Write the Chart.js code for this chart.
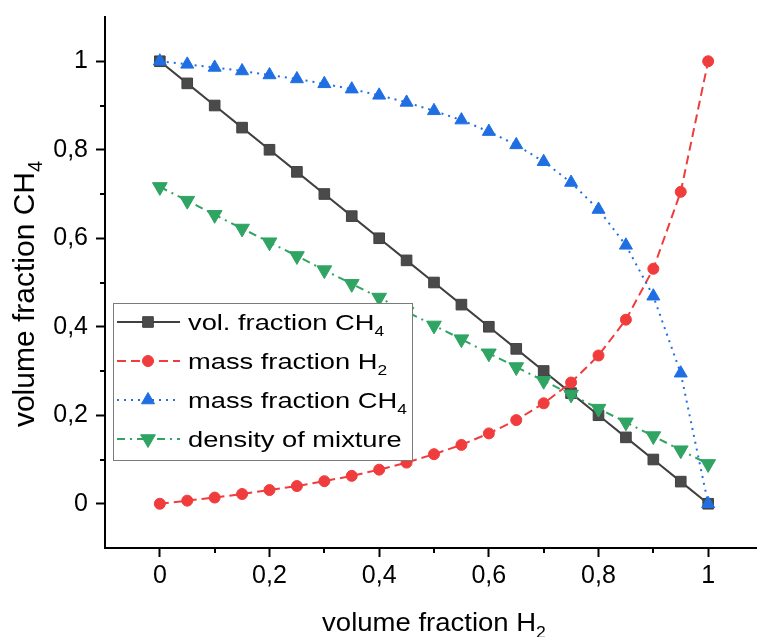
<!DOCTYPE html>
<html>
<head>
<meta charset="utf-8">
<script src="https://cdn.jsdelivr.net/npm/chart.js@4.4.1/dist/chart.umd.min.js"></script>
<style>
  html, body { margin: 0; padding: 0; background: #fff; overflow: hidden; }
  #wrap { width: 763px; height: 637px; }
</style>
</head>
<body>
<div id="wrap"><canvas id="chart" width="763" height="637"></canvas></div>
<script>
// volume fraction H2 (x) and the four curves
const xValues = [0, 0.05, 0.1, 0.15, 0.2, 0.25, 0.3, 0.35, 0.4, 0.45, 0.5,
                 0.55, 0.6, 0.65, 0.7, 0.75, 0.8, 0.85, 0.9, 0.95, 1];
const volFractionCH4 = [1, 0.95, 0.9, 0.85, 0.8, 0.75, 0.7, 0.65, 0.6, 0.55, 0.5,
                        0.45, 0.4, 0.35, 0.3, 0.25, 0.2, 0.15, 0.1, 0.05, 0];
const massFractionH2 = [0, 0.007, 0.014, 0.022, 0.031, 0.040, 0.051, 0.063, 0.077, 0.093, 0.112,
                        0.133, 0.159, 0.189, 0.227, 0.274, 0.335, 0.416, 0.531, 0.705, 1];
const massFractionCH4 = [1, 0.993, 0.986, 0.978, 0.969, 0.960, 0.949, 0.937, 0.923, 0.907, 0.888,
                         0.867, 0.841, 0.811, 0.773, 0.726, 0.665, 0.584, 0.469, 0.295, 0];
const densityMixture = [0.716, 0.685, 0.653, 0.622, 0.591, 0.560, 0.528, 0.497, 0.466, 0.434, 0.403,
                        0.372, 0.340, 0.309, 0.278, 0.247, 0.215, 0.184, 0.153, 0.121, 0.090];

const xTicks = [0, 0.2, 0.4, 0.6, 0.8, 1];
const yTicks = [0, 0.2, 0.4, 0.6, 0.8, 1];
const xMinorTicks = [0.1, 0.3, 0.5, 0.7, 0.9];
const yMinorTicks = [0.1, 0.3, 0.5, 0.7, 0.9];

// legend text: [main text, subscript]
const legendLabels = [
    ['vol. fraction CH', '4'],
    ['mass fraction H', '2'],
    ['mass fraction CH', '4'],
    ['density of mixture', '']
];
const xTitle = ['volume fraction H', '2'];
const yTitle = ['volume fraction CH', '4'];

const FONT = '"Liberation Sans", Arial, Helvetica, sans-serif';

const toPoints = ys => xValues.map((x, i) => ({ x: x, y: ys[i] }));
const fmt = v => String(Math.round(v * 10) / 10).replace('.', ',');

const series = [
    { label: 'vol. fraction CH4', data: volFractionCH4, color: '#404040', fill: '#4a4a4a',
      dash: [], style: 'rect', radius: 7.5, rotation: 0 },
    { label: 'mass fraction H2', data: massFractionH2, color: '#f03c3c', fill: '#f03c3c',
      dash: [9, 5], style: 'circle', radius: 5.5, rotation: 0 },
    { label: 'mass fraction CH4', data: massFractionCH4, color: '#1f6fe3', fill: '#1f6fe3',
      dash: [2, 5], style: 'triangle', radius: 7.5, rotation: 0 },
    { label: 'density of mixture', data: densityMixture, color: '#2fa463', fill: '#2fa463',
      dash: [8, 5, 2, 5], style: 'triangle', radius: 8.5, rotation: 180 }
];

// draw text with a lowered, smaller subscript part; sx stretches it sideways
function drawSubText(ctx, parts, x, y, size, align, sx) {
    const mainFont = size + 'px ' + FONT;
    const subFont = Math.round(size * 0.65) + 'px ' + FONT;
    ctx.font = mainFont;
    const w1 = ctx.measureText(parts[0]).width;
    ctx.font = subFont;
    const w2 = parts[1] ? ctx.measureText(parts[1]).width : 0;
    ctx.save();
    ctx.translate(x, y);
    ctx.scale(sx, 1);
    const start = align === 'center' ? -(w1 + w2) / 2 : 0;
    ctx.textAlign = 'left';
    ctx.textBaseline = 'alphabetic';
    ctx.font = mainFont;
    ctx.fillText(parts[0], start, 0);
    if (parts[1]) {
        ctx.font = subFont;
        ctx.fillText(parts[1], start + w1, size * 0.28);
    }
    ctx.restore();
}

function drawMarker(ctx, s, x, y) {
    ctx.save();
    ctx.fillStyle = s.fill;
    ctx.strokeStyle = s.color;
    ctx.lineWidth = 1;
    ctx.setLineDash([]);
    ctx.beginPath();
    const r = s.radius;
    if (s.style === 'rect') {
        const h = r * Math.SQRT1_2;
        ctx.rect(x - h, y - h, 2 * h, 2 * h);
    } else if (s.style === 'circle') {
        ctx.arc(x, y, r, 0, Math.PI * 2);
    } else {
        let rad = s.rotation * Math.PI / 180;
        ctx.moveTo(x + Math.sin(rad) * r, y - Math.cos(rad) * r);
        rad += Math.PI * 2 / 3;
        ctx.lineTo(x + Math.sin(rad) * r, y - Math.cos(rad) * r);
        rad += Math.PI * 2 / 3;
        ctx.lineTo(x + Math.sin(rad) * r, y - Math.cos(rad) * r);
        ctx.closePath();
    }
    ctx.fill();
    ctx.stroke();
    ctx.restore();
}

const decorPlugin = {
    id: 'decor',
    beforeDatasetsDraw(chart) {
        // minor ticks, shorter than the major ones
        const ctx = chart.ctx;
        const xs = chart.scales.x, ys = chart.scales.y;
        const area = chart.chartArea;
        ctx.save();
        ctx.strokeStyle = '#000';
        ctx.lineWidth = 2;
        ctx.beginPath();
        xMinorTicks.forEach(v => {
            const px = Math.round(xs.getPixelForValue(v));
            ctx.moveTo(px, area.bottom);
            ctx.lineTo(px, area.bottom + 5);
        });
        yMinorTicks.forEach(v => {
            const py = Math.round(ys.getPixelForValue(v));
            ctx.moveTo(area.left, py);
            ctx.lineTo(area.left - 5, py);
        });
        ctx.stroke();
        ctx.restore();
    },
    afterDraw(chart) {
        const ctx = chart.ctx;
        ctx.save();
        ctx.fillStyle = '#000';

        // axis titles
        drawSubText(ctx, xTitle, 434, 631, 25, 'center', 1.1);
        ctx.save();
        ctx.translate(34, 294);
        ctx.rotate(-Math.PI / 2);
        ctx.fillStyle = '#000';
        drawSubText(ctx, yTitle, 0, 0, 30, 'center', 1);
        ctx.restore();

        // legend box
        const bx = 113, by = 303, bw = 299, bh = 157;
        ctx.fillStyle = '#fff';
        ctx.fillRect(bx, by, bw, bh);
        ctx.strokeStyle = '#7a7a7a';
        ctx.lineWidth = 1;
        ctx.strokeRect(bx + 0.5, by + 0.5, bw, bh);
        series.forEach((s, i) => {
            const cy = 322 + i * 39;
            ctx.save();
            ctx.strokeStyle = s.color;
            ctx.lineWidth = 2;
            ctx.setLineDash(s.dash);
            ctx.beginPath();
            ctx.moveTo(117, cy);
            ctx.lineTo(180, cy);
            ctx.stroke();
            ctx.restore();
            drawMarker(ctx, s, 148, cy);
            ctx.fillStyle = '#000';
            drawSubText(ctx, legendLabels[i], 188, cy + 8, 22, 'left', 1.24);
        });
        ctx.restore();
    }
};

const ctx = document.getElementById('chart').getContext('2d');
const chart = new Chart(ctx, {
    type: 'line',
    data: {
        datasets: series.map((s, i) => ({
            label: s.label,
            data: toPoints(s.data),
            borderColor: s.color,
            backgroundColor: s.fill,
            borderWidth: 2,
            borderDash: s.dash,
            tension: 0,
            fill: false,
            pointStyle: s.style,
            pointRadius: s.radius,
            pointRotation: s.rotation,
            pointBorderColor: s.color,
            pointBackgroundColor: s.fill,
            pointBorderWidth: 1,
            order: series.length - i
        }))
    },
    options: {
        responsive: false,
        animation: false,
        layout: { autoPadding: false, padding: { top: 17, left: 0, right: 0, bottom: 0 } },
        plugins: {
            legend: { display: false },
            tooltip: { enabled: false }
        },
        scales: {
            x: {
                type: 'linear',
                min: -0.1,
                max: 1.1,
                afterFit: s => {
                    s.height = 89;
                    s.paddingLeft = 0; s.paddingRight = 0;
                    s.paddingTop = 0; s.paddingBottom = 0;
                },
                afterBuildTicks: s => { s.ticks = xTicks.map(v => ({ value: v })); },
                grid: { drawOnChartArea: false, drawTicks: true, tickLength: 9, tickColor: '#000', tickWidth: 2 },
                border: { display: true, color: '#000', width: 2 },
                ticks: {
                    color: '#000',
                    font: { family: FONT, size: 25 },
                    padding: 4,
                    maxRotation: 0,
                    autoSkip: false,
                    callback: v => fmt(v)
                }
            },
            y: {
                type: 'linear',
                min: -0.1,
                max: 1.1,
                afterFit: s => {
                    s.width = 105;
                    s.paddingLeft = 0; s.paddingRight = 0;
                    s.paddingTop = 0; s.paddingBottom = 0;
                },
                afterBuildTicks: s => { s.ticks = yTicks.map(v => ({ value: v })); },
                grid: { drawOnChartArea: false, drawTicks: true, tickLength: 9, tickColor: '#000', tickWidth: 2 },
                border: { display: true, color: '#000', width: 2 },
                ticks: {
                    color: '#000',
                    font: { family: FONT, size: 25 },
                    padding: 8,
                    autoSkip: false,
                    callback: v => fmt(v)
                }
            }
        }
    },
    plugins: [decorPlugin]
});
</script>
</body>
</html>
